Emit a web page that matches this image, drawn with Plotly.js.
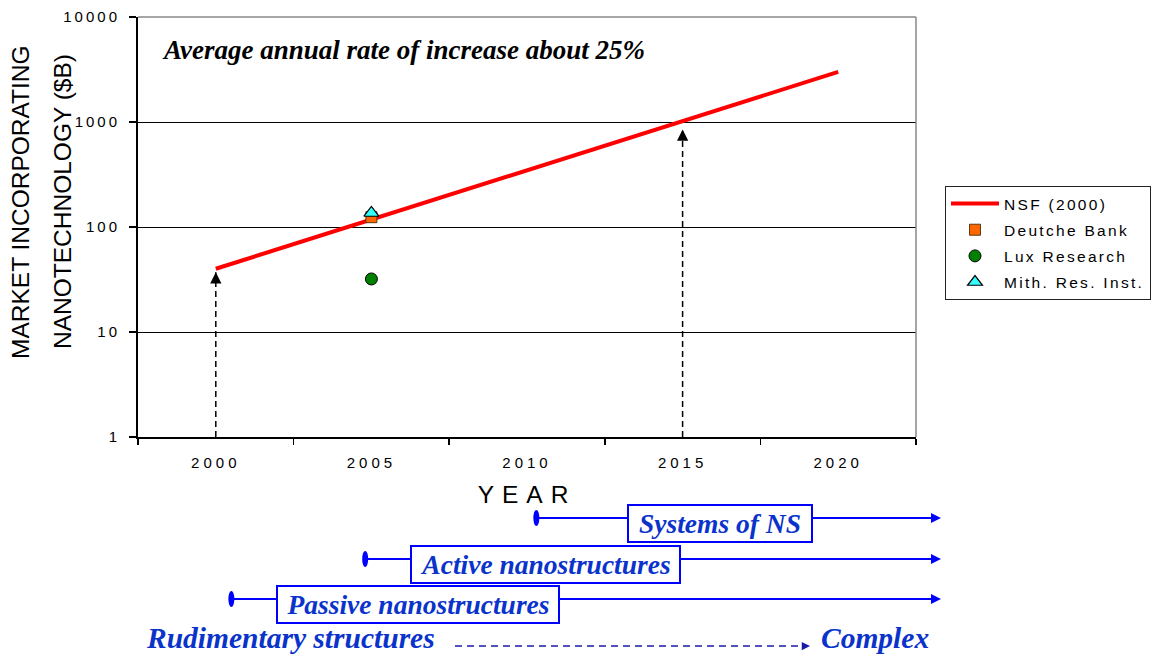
<!DOCTYPE html>
<html><head><meta charset="utf-8">
<script src="https://cdn.plot.ly/plotly-3.0.1.min.js"></script>
<style>
body{margin:0;background:#fff}
#chart{width:1152px;height:656px}
.xtick text{letter-spacing:4px}
.ytick text{letter-spacing:3px}
.legendtext{letter-spacing:2.3px}
.g-xtitle text{letter-spacing:8px}
</style></head><body><div id="chart"></div>
<script>
// ---- data ----
const yearTickVals = [2000, 2005, 2010, 2015, 2020];
const yearTickText = ['2000', '2005', '2010', '2015', '2020'];
const yearBoundaries = [1997.5, 2002.5, 2007.5, 2012.5, 2017.5, 2022.5];
const nsfYears = [2000, 2020];
const nsfValues = [40, 3000];
const deutcheYears = [2005];
const deutcheValues = [124];
const luxYears = [2005];
const luxValues = [32];
const mithYears = [2005];
const mithValues = [136];
const yTickVals = [1, 10, 100, 1000, 10000];
const yTickText = ['1', '10', '100', '1000', '10000'];
const arrowYears = [2000, 2015];
const arrowTipValues = [37, 850];
const stageNames = ['Systems of NS', 'Active nanostructures', 'Passive nanostructures'];
const stageStartYears = [2010.3, 2004.8, 2000.5];

// ---- layout helpers ----
const L = 138, T = 17, W = 778, H = 420;
const px2x = p => (p - L) / W;
const py2y = p => (T + H - p) / H;
const year2x = y => (y - 1997.5) / 25;

const serif = "'Liberation Serif', 'Times New Roman', serif";
const sans = "'Liberation Sans', Arial, sans-serif";
const blueLine = '#0000ff';
const blueText = '#0a33cc';

const traces = [
  {x: nsfYears, y: nsfValues, name: 'NSF (2000)', mode: 'lines', type: 'scatter',
   line: {color: '#ff0000', width: 4}, legendgroup: 'a'},
  {x: deutcheYears, y: deutcheValues, name: 'Deutche Bank', mode: 'markers', type: 'scatter',
   marker: {symbol: 'square', color: '#ff6600', size: 11, line: {color: '#5a3a10', width: 1}}, legendgroup: 'b'},
  {x: luxYears, y: luxValues, name: 'Lux Research', mode: 'markers', type: 'scatter',
   marker: {symbol: 'circle', color: '#008000', size: 12, line: {color: '#000', width: 1}}, legendgroup: 'c'},
  {x: mithYears, y: mithValues, name: 'Mith. Res. Inst.', mode: 'markers', type: 'scatter',
   marker: {symbol: 'triangle-up', color: '#33ffff', size: 13, line: {color: '#000', width: 1.2}}, legendgroup: 'd'}
];

const shapes = [
  {type: 'line', xref: 'paper', yref: 'paper', x0: 0, x1: 1, y0: 1, y1: 1, line: {color: '#888', width: 1.5}},
  {type: 'line', xref: 'paper', yref: 'paper', x0: 1, x1: 1, y0: 0, y1: 1, line: {color: '#888', width: 1.5}}
];
const annotations = [];

// dashed vertical arrows
arrowYears.forEach((yr, i) => {
  shapes.push({type: 'line', xref: 'x', yref: 'y', x0: yr, x1: yr, y0: yTickVals[0], y1: arrowTipValues[i],
    line: {color: '#000', width: 1.5, dash: '6px,4px'}});
  annotations.push({x: yr, y: Math.log10(arrowTipValues[i]), xref: 'x', yref: 'y', text: '', showarrow: true,
    ax: 0, ay: 9, arrowhead: 2, arrowsize: 1.5, arrowwidth: 1.5, arrowcolor: '#000', standoff: 0});
});

// title text
annotations.push({x: px2x(160), y: py2y(50), xref: 'paper', yref: 'paper', xanchor: 'left', yanchor: 'middle',
  text: 'Average annual rate of increase about 25%', showarrow: false,
  font: {family: serif, size: 27, weight: 'bold', style: 'italic', color: '#000'}});

// y-axis title (two lines)
annotations.push({x: px2x(20), y: py2y(202), xref: 'paper', yref: 'paper', xanchor: 'center', yanchor: 'middle',
  text: 'MARKET INCORPORATING', textangle: -90, showarrow: false, font: {family: sans, size: 24.5, color: '#000'}});
annotations.push({x: px2x(62), y: py2y(202), xref: 'paper', yref: 'paper', xanchor: 'center', yanchor: 'middle',
  text: 'NANOTECHNOLOGY ($B)', textangle: -90, showarrow: false, font: {family: sans, size: 24.5, color: '#000'}});

// timeline rows
const rowY = [518, 559, 599];
const boxCX = [720, 545, 418];
const boxW = [186, 271, 284];
const arrowEndPx = 941;
stageNames.forEach((name, i) => {
  const startPx = L + year2x(stageStartYears[i]) * W;
  annotations.push({x: px2x(arrowEndPx), y: py2y(rowY[i]), xref: 'paper', yref: 'paper', text: '', showarrow: true,
    ax: startPx - arrowEndPx, ay: 0, arrowhead: 2, arrowsize: 1, arrowwidth: 2, arrowcolor: blueLine, standoff: 0});
  shapes.push({type: 'circle', xref: 'paper', yref: 'paper', x0: px2x(startPx - 3), x1: px2x(startPx + 3),
    y0: py2y(rowY[i] + 8), y1: py2y(rowY[i] - 8), fillcolor: blueLine, line: {width: 0}});
});
stageNames.forEach((name, i) => {
  annotations.push({x: px2x(boxCX[i]), y: py2y(rowY[i] + 5), xref: 'paper', yref: 'paper', xanchor: 'center', yanchor: 'middle',
    text: name, showarrow: false, width: boxW[i] - 6, height: 33, bgcolor: '#fff', bordercolor: blueLine, borderwidth: 2, borderpad: 1,
    font: {family: serif, size: 27.5, weight: 'bold', style: 'italic', color: blueText}});
});

// bottom row
annotations.push({x: px2x(145), y: py2y(655), xref: 'paper', yref: 'paper', xanchor: 'left', yanchor: 'bottom',
  text: 'Rudimentary structures', showarrow: false, borderpad: 0,
  font: {family: serif, size: 29.5, weight: 'bold', style: 'italic', color: blueText}});
annotations.push({x: px2x(820), y: py2y(655), xref: 'paper', yref: 'paper', xanchor: 'left', yanchor: 'bottom',
  text: 'Complex', showarrow: false, borderpad: 0,
  font: {family: serif, size: 29.5, weight: 'bold', style: 'italic', color: blueText}});
shapes.push({type: 'line', xref: 'paper', yref: 'paper', x0: px2x(455), x1: px2x(802), y0: py2y(646), y1: py2y(646),
  line: {color: '#1a1aa8', width: 1.5, dash: '7px,5px'}});
annotations.push({x: px2x(810), y: py2y(646), xref: 'paper', yref: 'paper', text: '', showarrow: true,
  ax: -8, ay: 0, arrowhead: 2, arrowsize: 1.1, arrowwidth: 1.5, arrowcolor: '#1a1aa8', standoff: 0});

const layout = {
  width: 1152, height: 656,
  margin: {l: L, r: 1152 - L - W, t: T, b: 656 - T - H, autoexpand: false},
  paper_bgcolor: '#fff', plot_bgcolor: '#fff',
  showlegend: true,
  legend: {x: px2x(945), y: py2y(186), xanchor: 'left', yanchor: 'top', bgcolor: '#fff',
    bordercolor: '#222', borderwidth: 1, font: {family: sans, size: 15.5, color: '#000'},
    traceorder: 'grouped', tracegroupgap: 3, itemwidth: 48},
  xaxis: {range: [1997.5, 2022.5], tickvals: yearTickVals, ticktext: yearTickText, ticks: '',
    minor: {tickvals: yearBoundaries, ticks: 'outside', ticklen: 6, tickcolor: '#000', tickwidth: 1.5, showgrid: false},
    showgrid: false, zeroline: false, showline: true, linecolor: '#000', linewidth: 2,
    tickfont: {family: sans, size: 15, color: '#000'}, ticklabelstandoff: 11,
    title: {text: 'YEAR', font: {family: sans, size: 24.5, color: '#000'}, standoff: 16}},
  yaxis: {type: 'log', range: [0, 4], tickvals: yTickVals, ticktext: yTickText, ticks: 'outside', ticklen: 7,
    tickcolor: '#000', tickwidth: 1.5, showgrid: true, gridcolor: '#000', gridwidth: 1,
    showline: true, linecolor: '#000', linewidth: 2, zeroline: false,
    tickfont: {family: sans, size: 15, color: '#000'}, ticklabelstandoff: 6},
  shapes: shapes,
  annotations: annotations
};

Plotly.newPlot('chart', traces, layout, {displayModeBar: false, staticPlot: true});
</script></body></html>
